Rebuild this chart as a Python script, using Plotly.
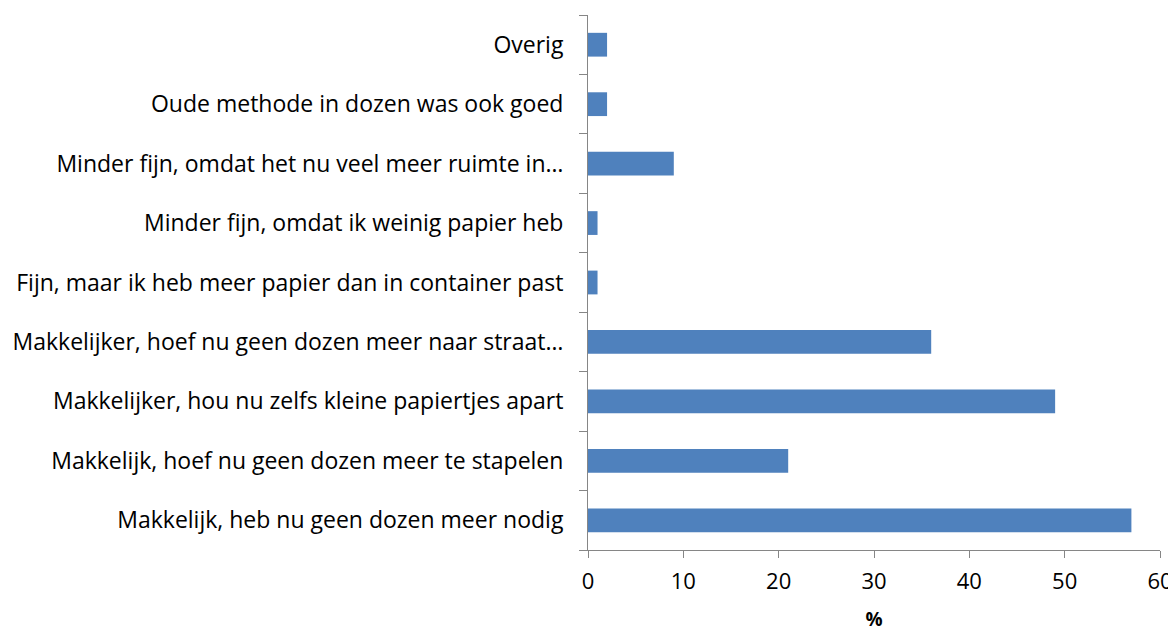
import plotly.graph_objects as go

# categories listed bottom to top, as drawn
categories = [
    "Makkelijk, heb nu geen dozen meer nodig",
    "Makkelijk, hoef nu geen dozen meer te stapelen",
    "Makkelijker, hou nu zelfs kleine papiertjes apart",
    "Makkelijker, hoef nu geen dozen meer naar straat…",
    "Fijn, maar ik heb meer papier dan in container past",
    "Minder fijn, omdat ik weinig papier heb",
    "Minder fijn, omdat het nu veel meer ruimte in…",
    "Oude methode in dozen was ook goed",
    "Overig",
]
percentages = [57, 21, 49, 36, 1, 1, 9, 2, 2]
x_ticks = [0, 10, 20, 30, 40, 50, 60]

AXIS_GREY = "#868686"
FONT = "Open Sans"

fig = go.Figure(
    go.Bar(
        x=percentages,
        y=categories,
        orientation="h",
        marker=dict(color="#4F81BD", line=dict(width=0)),
        hoverinfo="x+y",
    )
)

# the page body adds an 8px margin, so the figure is 8px smaller each way
fig.update_layout(
    width=1168,
    height=624,
    margin=dict(l=580, r=16, t=7, b=82),
    plot_bgcolor="white",
    paper_bgcolor="white",
    bargap=0.6,
    showlegend=False,
    font=dict(family=FONT, size=23, color="black"),
)

fig.update_xaxes(
    range=[0, 60],
    tickvals=x_ticks,
    automargin=False,
    showgrid=False,
    zeroline=False,
    showline=True,
    linecolor=AXIS_GREY,
    linewidth=1,
    ticks="outside",
    ticklen=7,
    tickcolor=AXIS_GREY,
    ticklabelstandoff=5,
    tickfont=dict(size=22),
    title=dict(text="<b>%</b>", font=dict(size=19), standoff=21),
)

fig.update_yaxes(
    categoryorder="array",
    categoryarray=categories,
    automargin=False,
    showgrid=False,
    showline=True,
    linecolor=AXIS_GREY,
    linewidth=1,
    ticks="outside",
    tickson="boundaries",
    ticklen=8,
    tickcolor=AXIS_GREY,
    ticklabelstandoff=19,
    tickfont=dict(size=23),
)

fig.write_html("out.html")
